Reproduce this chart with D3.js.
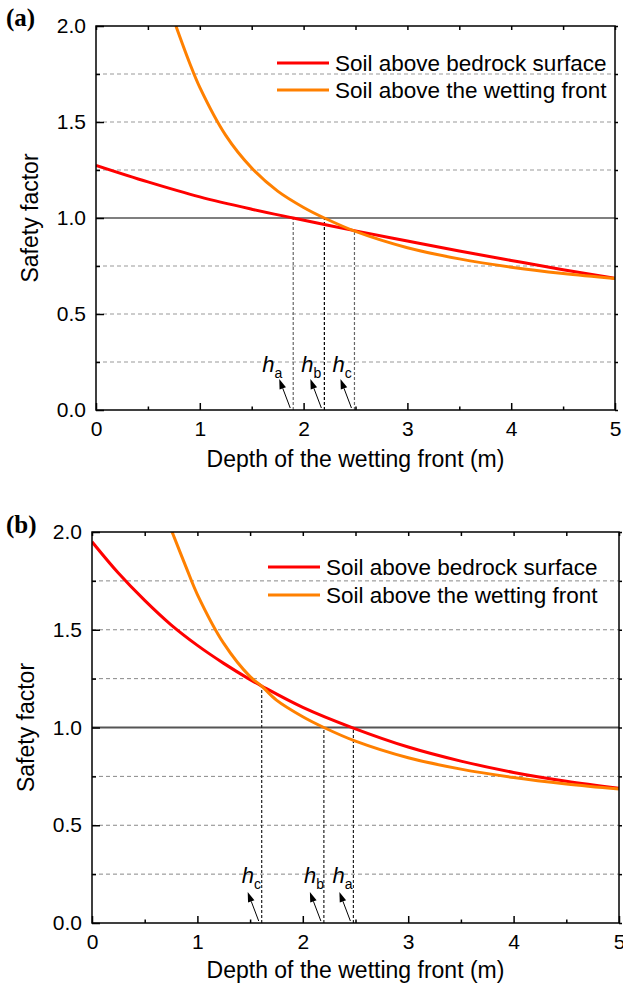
<!DOCTYPE html>
<html>
<head>
<meta charset="utf-8">
<script src="https://cdn.jsdelivr.net/npm/d3@7"></script>
<style>
  html, body { margin: 0; padding: 0; background: #fff; }
  svg { display: block; }
  text { font-family: "Liberation Sans", Arial, Helvetica, sans-serif; fill: #000; }
</style>
</head>
<body>
<svg id="chart" width="623" height="986"></svg>
<script>
// ---------------- data ----------------
const seriesNames = ["Soil above bedrock surface", "Soil above the wetting front"];
const xTickValues = [0, 1, 2, 3, 4, 5];
const yTickValues = [0, 0.5, 1.0, 1.5, 2.0];
const gridValues = [0.25, 0.5, 0.75, 1.25, 1.5, 1.75];

// Panel (a)
const redAX = [0, 0.5, 1.0, 1.5, 1.9, 2.5, 3.0, 3.5, 4.0, 4.5, 5.0];
const redAY = [1.274, 1.188, 1.11, 1.046, 1.0, 0.933, 0.88, 0.828, 0.779, 0.731, 0.686];
const orangeAX = [0.77, 0.9, 1.0, 1.25, 1.5, 1.75, 2.0, 2.2, 2.5, 3.0, 3.5, 4.0, 4.5, 5.0];
const orangeAY = [2.0, 1.81, 1.68, 1.43, 1.26, 1.14, 1.055, 1.0, 0.93, 0.845, 0.787, 0.744, 0.711, 0.685];
const markersA = ["a", "b", "c"];
const markerAX = [1.9, 2.2, 2.49];
const markerAY = [1.0, 1.0, 0.932];

// Panel (b)
const redBX = [0, 0.25, 0.5, 0.75, 1.0, 1.25, 1.5, 1.61, 2.0, 2.48, 3.0, 3.5, 4.0, 4.5, 5.0];
const redBY = [1.95, 1.79, 1.65, 1.525, 1.42, 1.328, 1.245, 1.212, 1.103, 0.997, 0.9, 0.828, 0.77, 0.725, 0.689];
const orangeBX = [0.76, 0.9, 1.0, 1.25, 1.5, 1.61, 1.75, 2.0, 2.2, 2.5, 3.0, 3.5, 4.0, 4.5, 5.0];
const orangeBY = [2.0, 1.81, 1.68, 1.43, 1.26, 1.212, 1.14, 1.055, 1.0, 0.93, 0.845, 0.787, 0.744, 0.711, 0.685];
const markersB = ["c", "b", "a"];
const markerBX = [1.61, 2.2, 2.48];
const markerBY = [1.212, 1.0, 1.0];

// ---------------- drawing ----------------
const svg = d3.select("#chart");
const RED = "#ff0000", ORANGE = "#ff8000";

function drawPanel(cfg) {
  const x = d3.scaleLinear().domain([0, 5]).range([cfg.left, cfg.right]);
  const y = d3.scaleLinear().domain([0, 2]).range([cfg.bottom, cfg.top]);
  const g = svg.append("g");

  // grid lines
  g.append("g").selectAll("line").data(gridValues).join("line")
    .attr("x1", x(0)).attr("x2", x(5))
    .attr("y1", d => y(d)).attr("y2", d => y(d))
    .attr("stroke", cfg.gridColor).attr("stroke-width", 1)
    .attr("stroke-dasharray", "4,3");

  // unity line
  g.append("line")
    .attr("x1", x(0)).attr("x2", x(5))
    .attr("y1", y(1)).attr("y2", y(1))
    .attr("stroke", cfg.unityColor).attr("stroke-width", cfg.unityWidth);

  // vertical dashed markers
  const marks = cfg.markNames.map((n, i) => ({ n, x: cfg.markX[i], y: cfg.markY[i], color: cfg.markColors[i], dx: cfg.labelDx[i] }));
  g.append("g").selectAll("line").data(marks).join("line")
    .attr("x1", d => x(d.x)).attr("x2", d => x(d.x))
    .attr("y1", y(0)).attr("y2", d => y(d.y))
    .attr("stroke", d => d.color).attr("stroke-width", 1.2)
    .attr("stroke-dasharray", "3,2");

  // clip for curves
  const clipId = "clip" + cfg.id;
  svg.append("clipPath").attr("id", clipId).append("rect")
    .attr("x", x(0)).attr("y", y(2)).attr("width", x(5) - x(0)).attr("height", y(0) - y(2));

  const line = d3.line().x(d => x(d[0])).y(d => y(d[1])).curve(d3.curveCatmullRom.alpha(0.5));
  const redData = cfg.redX.map((v, i) => [v, cfg.redY[i]]);
  const orData = cfg.orX.map((v, i) => [v, cfg.orY[i]]);
  const cg = g.append("g").attr("clip-path", `url(#${clipId})`);
  cg.append("path").datum(redData).attr("d", line)
    .attr("fill", "none").attr("stroke", RED).attr("stroke-width", 3);
  cg.append("path").datum(orData).attr("d", line)
    .attr("fill", "none").attr("stroke", ORANGE).attr("stroke-width", 3);

  // arrows + labels
  marks.forEach(d => {
    const bx = x(d.x), by = y(0);
    const tx = bx - 3, ty = by - 2;
    const hx = bx - 14, hy = by - 31;
    const ang = Math.atan2(hy - ty, hx - tx);
    const L = 10, W = 3.4;
    const baseX = hx - L * Math.cos(ang), baseY = hy - L * Math.sin(ang);
    g.append("line").attr("x1", tx).attr("y1", ty).attr("x2", baseX).attr("y2", baseY)
      .attr("stroke", "#000").attr("stroke-width", 1);
    const px = -Math.sin(ang), py = Math.cos(ang);
    g.append("path")
      .attr("d", `M${hx},${hy}L${baseX + W * px},${baseY + W * py}L${baseX - W * px},${baseY - W * py}Z`)
      .attr("fill", "#000");
    const t = g.append("text").attr("x", bx + d.dx).attr("y", by - cfg.labelRise)
      .style("font-size", "22px");
    t.append("tspan").style("font-style", "italic").text("h");
    t.append("tspan").attr("dy", 6).style("font-size", "14px").text(d.n);
  });

  // frame
  g.append("rect").attr("x", x(0)).attr("y", y(2))
    .attr("width", x(5) - x(0)).attr("height", y(0) - y(2))
    .attr("fill", "none").attr("stroke", "#000").attr("stroke-width", 1.5);

  // axes
  const fmt = d3.format(".1f");
  const bottom = g.append("g").attr("transform", `translate(0,${y(0)})`)
    .call(d3.axisBottom(x).tickValues(xTickValues).tickFormat(d3.format("d"))
      .tickSizeInner(-7).tickSizeOuter(0).tickPadding(11));
  const bottomMinor = g.append("g").attr("transform", `translate(0,${y(0)})`)
    .call(d3.axisBottom(x).tickValues(d3.range(0.5, 5, 1)).tickFormat("")
      .tickSizeInner(-3.5).tickSizeOuter(0));
  const top = g.append("g").attr("transform", `translate(0,${y(2)})`)
    .call(d3.axisTop(x).tickValues(d3.range(0, 5.01, 0.5)).tickFormat("")
      .tickSizeInner(-4).tickSizeOuter(0));
  const left = g.append("g").attr("transform", `translate(${x(0)},0)`)
    .call(d3.axisLeft(y).tickValues(yTickValues).tickFormat(fmt)
      .tickSizeInner(-8).tickSizeOuter(0).tickPadding(10));
  const leftMinor = g.append("g").attr("transform", `translate(${x(0)},0)`)
    .call(d3.axisLeft(y).tickValues([0.25, 0.75, 1.25, 1.75]).tickFormat("")
      .tickSizeInner(-4).tickSizeOuter(0));
  const right = g.append("g").attr("transform", `translate(${x(5)},0)`)
    .call(d3.axisRight(y).tickValues(d3.range(0, 2.01, 0.25)).tickFormat("")
      .tickSizeInner(3).tickSizeOuter(0));
  [bottom, bottomMinor, top, left, leftMinor, right].forEach(a => {
    a.select(".domain").remove();
    a.selectAll(".tick line").attr("stroke", "#000").attr("stroke-width", 1.5);
    a.selectAll("text").style("font-size", "21px")
      .style("font-family", '"Liberation Sans", Arial, sans-serif').attr("fill", "#000");
  });

  // axis titles
  g.append("text").attr("x", (x(0) + x(5)) / 2).attr("y", cfg.xTitleY)
    .attr("text-anchor", "middle").style("font-size", "23px")
    .text("Depth of the wetting front (m)");
  g.append("text").attr("transform", `translate(${cfg.yTitleX},${y(1)}) rotate(-90)`)
    .attr("text-anchor", "middle").style("font-size", "23px")
    .text("Safety factor");

  // panel label
  g.append("text").attr("x", 6).attr("y", cfg.labelY)
    .style("font-family", '"Liberation Serif", "Times New Roman", serif')
    .style("font-weight", "bold").style("font-size", "25px").text(cfg.panel);

  // legend
  const colors = [RED, ORANGE];
  seriesNames.forEach((name, i) => {
    const ly = cfg.legendY[i];
    g.append("line").attr("x1", cfg.legendX).attr("x2", cfg.legendX + 52)
      .attr("y1", ly).attr("y2", ly).attr("stroke", colors[i]).attr("stroke-width", 3);
    g.append("text").attr("x", cfg.legendX + 58).attr("y", ly).attr("dy", "0.35em")
      .style("font-size", "22.5px").text(name);
  });
}

drawPanel({
  id: "a", panel: "(a)", left: 96, right: 615, top: 26, bottom: 410,
  redX: redAX, redY: redAY, orX: orangeAX, orY: orangeAY,
  markNames: markersA, markX: markerAX, markY: markerAY,
  markColors: ["#666", "#000", "#666"], labelDx: [-31, -23, -22], labelRise: 38,
  gridColor: "#999", unityColor: "#000", unityWidth: 1.2,
  xTitleY: 467, yTitleX: 38, labelY: 26,
  legendX: 277, legendY: [63, 90]
});
drawPanel({
  id: "b", panel: "(b)", left: 92, right: 619, top: 532, bottom: 923,
  redX: redBX, redY: redBY, orX: orangeBX, orY: orangeBY,
  markNames: markersB, markX: markerBX, markY: markerBY,
  markColors: ["#222", "#222", "#222"], labelDx: [-20, -20, -21], labelRise: 40,
  gridColor: "#888", unityColor: "#555", unityWidth: 2,
  xTitleY: 978, yTitleX: 34, labelY: 533,
  legendX: 268, legendY: [567, 595]
});
</script>
</body>
</html>
